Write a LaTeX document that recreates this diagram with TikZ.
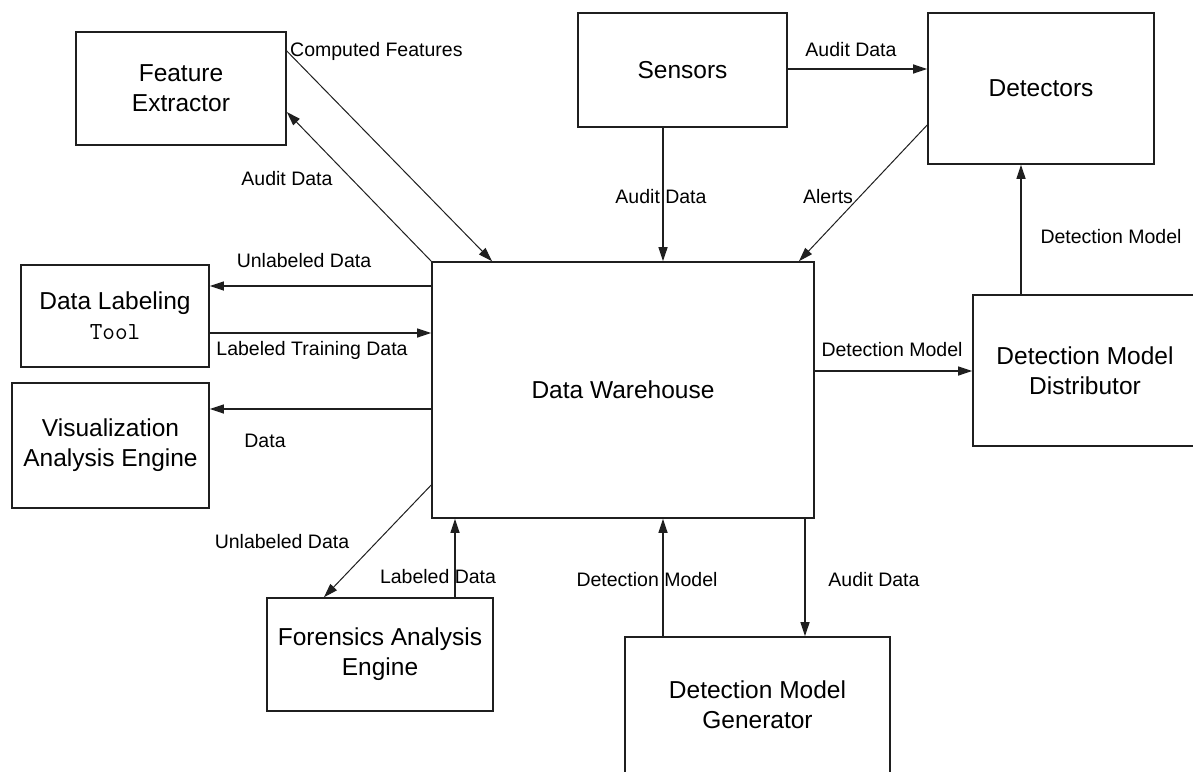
\documentclass[tikz,border=0pt]{standalone}
\usepackage{fontspec}
\setmainfont{Liberation Sans}
\usetikzlibrary{arrows.meta}
\begin{document}
\begin{tikzpicture}[x=1pt,y=-1pt,
  blk/.style={draw=black!88, line width=1.6pt, inner sep=0pt, align=center,
    font=\fontsize{24.5}{30}\selectfont},
  conn/.style={draw=black!88, line width=1.3pt, -{Triangle[length=14pt,width=9pt]}},
  diag/.style={conn, line width=1pt},
  lbl/.style={inner sep=0pt, font=\fontsize{19.5}{22}\selectfont}]
\useasboundingbox (0,0) rectangle (1193,771);
\fill[white] (0,0) rectangle (1193,771);
% boxes
\node[blk, minimum width=210pt, minimum height=113pt] (fe)   at (181,88.5)  {Feature\\Extractor};
\node[blk, minimum width=209pt, minimum height=114pt] (sen)  at (682.5,70)  {Sensors};
\node[blk, minimum width=226pt, minimum height=151pt] (det)  at (1041,88.5) {Detectors};
\node[blk, minimum width=188pt, minimum height=102pt] (dl)   at (115,316)   {Data Labeling\\{\ttfamily\fontsize{24.5}{30}\selectfont Tool}};
\node[blk, minimum width=197pt, minimum height=125pt] (vae)  at (110.5,445.5) {Visualization\\Analysis Engine};
\node[blk, minimum width=382pt, minimum height=256pt] (dw)   at (623,390)   {Data Warehouse};
\node[blk, minimum width=224pt, minimum height=151pt] (dist) at (1085,370.5) {Detection Model\\Distributor};
\node[blk, minimum width=226pt, minimum height=113pt] (fa)   at (380,654.5) {Forensics Analysis\\Engine};
\node[blk, minimum width=265pt, minimum height=136pt] (gen)  at (757.5,705) {Detection Model\\Generator};
% connectors
\draw[diag] (fe.east |- 0,51) -- (492,0 |- dw.north);
\draw[diag] (dw.north west) -- (fe.east |- 0,112);
\draw[conn] (dw.west |- 0,286) -- (dl.east |- 0,286);
\draw[conn] (dl.east |- 0,333) -- (dw.west |- 0,333);
\draw[conn] (dw.west |- 0,409) -- (vae.east |- 0,409);
\draw[diag] (dw.west |- 0,485) -- (324,0 |- fa.north);
\draw[conn] (455,0 |- fa.north) -- (455,0 |- dw.south);
\draw[conn] (663,0 |- gen.north) -- (663,0 |- dw.south);
\draw[conn] (805,0 |- dw.south) -- (805,0 |- gen.north);
\draw[conn] (dw.east |- 0,371) -- (dist.west |- 0,371);
\draw[conn] (1021,0 |- dist.north) -- (1021,0 |- det.south);
\draw[conn] (sen.east |- 0,69) -- (det.west |- 0,69);
\draw[conn] (663,0 |- sen.south) -- (663,0 |- dw.north);
\draw[diag] (det.west |- 0,125) -- (799,0 |- dw.north);
% labels
\node[lbl, anchor=west] (l1) at (290,51) {Computed Features};
\node[lbl] (l2) at (287,179) {Audit Data};
\node[lbl] (l3) at (304,261) {Unlabeled Data};
\node[lbl] (l4) at (312,350) {Labeled Training Data};
\node[lbl] (l5) at (265,441) {Data};
\node[lbl] (l6) at (282,542) {Unlabeled Data};
\node[lbl] (l7) at (438,577) {Labeled Data};
\node[lbl] (l8) at (647,580) {Detection Model};
\node[lbl] (l9) at (874,580) {Audit Data};
\node[lbl] (l10) at (892,350) {Detection Model};
\node[lbl] (l11) at (1111,237) {Detection Model};
\node[lbl] (l12) at (851,50) {Audit Data};
\node[lbl] (l13) at (661,197) {Audit Data};
\node[lbl] (l14) at (828,197) {Alerts};
\end{tikzpicture}
\end{document}
